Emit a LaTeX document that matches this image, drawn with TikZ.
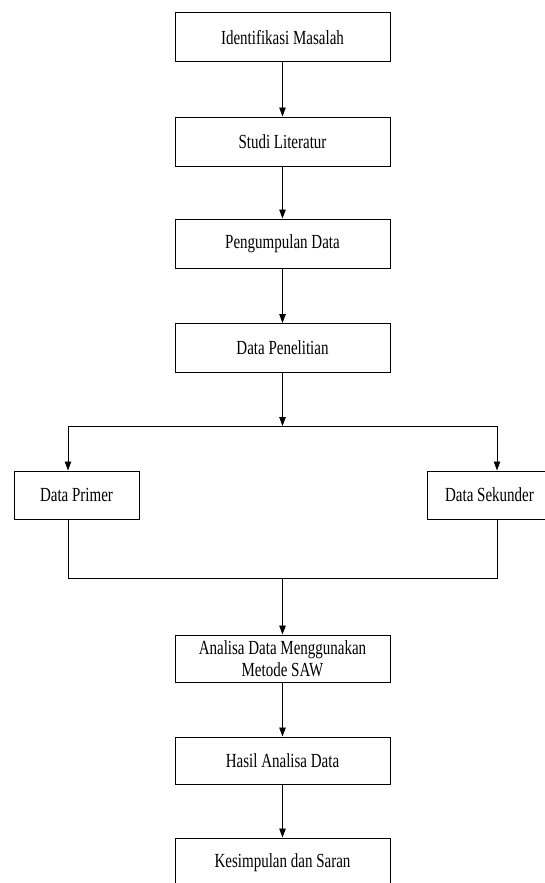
\documentclass[tikz,border=0pt]{standalone}
\usepackage{fontspec}
\setmainfont[FakeStretch=0.75]{Liberation Serif}
\usetikzlibrary{arrows.meta}
\begin{document}
\begin{tikzpicture}[x=1pt,y=-1pt,
  box/.style={draw=black,line width=1pt,rectangle,inner sep=0pt,minimum width=215pt,minimum height=49pt,
    font=\fontsize{20}{22}\selectfont,align=center},
  sidebox/.style={box,minimum width=125pt,minimum height=48pt},
  conn/.style={draw=black,line width=0.9pt},
  arr/.style={conn,-{Triangle[length=9pt,width=6.5pt]}}]
\useasboundingbox (0,0) rectangle (544,883);
\node[box] (b1) at (282.5,37.5) {Identifikasi Masalah};
\node[box] (b2) at (282.5,141.5) {Studi Literatur};
\node[box] (b3) at (282.5,243.5) {Pengumpulan Data};
\node[box] (b4) at (282.5,348) {Data Penelitian};
\node[sidebox] (dp) at (76.5,495) {Data Primer};
\node[sidebox] (ds) at (489.5,495) {Data Sekunder};
\node[box,minimum height=47pt] (b5) at (282.5,658.5) {Analisa Data Menggunakan\\Metode SAW};
\node[box,minimum height=47pt] (b6) at (282.5,760.5) {Hasil Analisa Data};
\node[box] (b7) at (282.5,862.5) {Kesimpulan dan Saran};
\coordinate (jc) at (282.5,426);
\coordinate (jl) at (68,426);
\coordinate (jr) at (497,426);
\coordinate (kc) at (282.5,578);
\coordinate (kl) at (68,578);
\coordinate (kr) at (497,578);
\draw[arr] (b1) -- (b2);
\draw[arr] (b2) -- (b3);
\draw[arr] (b3) -- (b4);
\draw[arr] (b4) -- (jc);
\draw[conn] (jl) -- (jr);
\draw[arr] (jl) -- (jl |- dp.north);
\draw[arr] (jr) -- (jr |- ds.north);
\draw[conn] (jl |- dp.south) -- (kl) -- (kr) -- (jr |- ds.south);
\draw[arr] (kc) -- (b5);
\draw[arr] (b5) -- (b6);
\draw[arr] (b6) -- (b7);
\end{tikzpicture}
\end{document}
